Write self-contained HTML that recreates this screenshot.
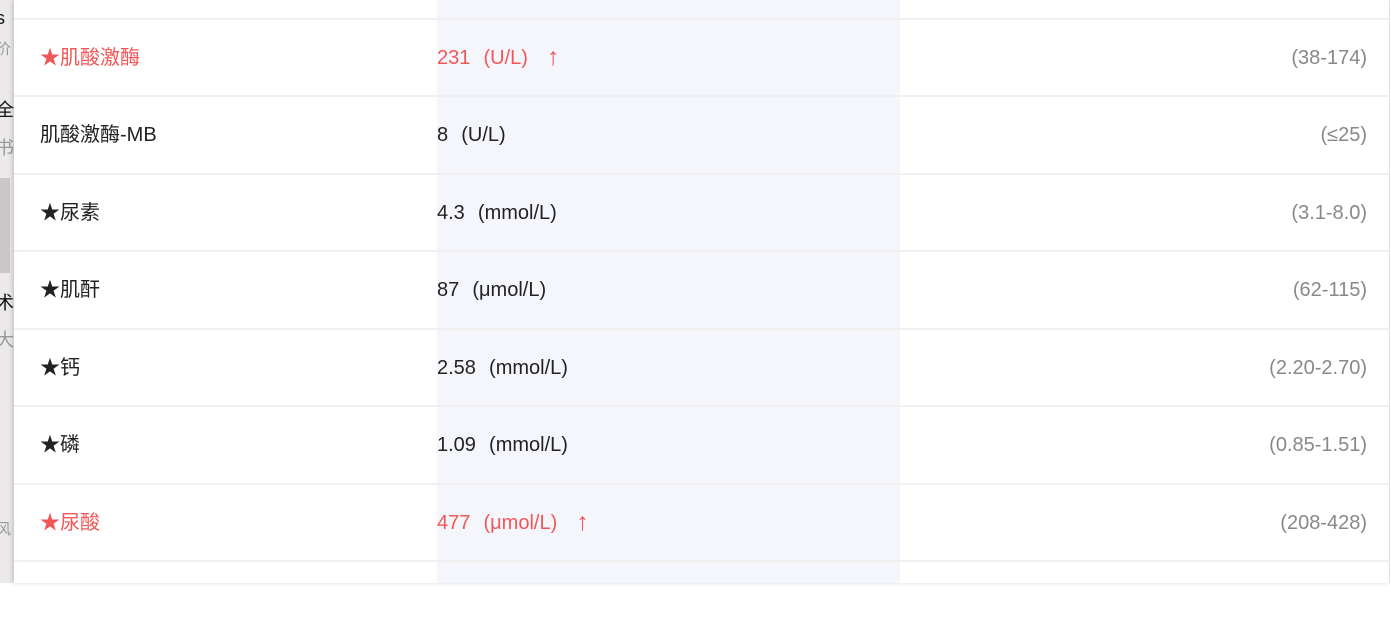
<!DOCTYPE html>
<html><head><meta charset="utf-8"><style>
body{margin:0;width:1391px;height:583px;overflow:hidden;background:#fff;font-family:"Liberation Sans","Noto Sans CJK SC",sans-serif;position:relative}
#side{position:absolute;left:0;top:0;width:14px;height:583px;background:#ebe9e9;overflow:hidden;color:#999;font-size:18px}
#side span{position:absolute;left:-4px;white-space:nowrap;line-height:20px}
#panel{position:absolute;left:14px;top:0;width:1375px;height:583px;background:#fff;border-right:1px solid #e4e4e4;box-shadow:-2px 0 4px rgba(0,0,0,.15)}
#hl{position:absolute;left:423px;top:0;width:463px;height:583px;background:#f5f6fc}
.row{position:absolute;left:0;width:1375px;height:77px;border-top:2px solid #f0f0f0;font-size:20px;color:#222}
.row div{position:absolute;top:26px;height:24px;line-height:24px;white-space:nowrap}
.n{left:26px}.v{left:423px;word-spacing:1px}.r{right:22px;color:#888}
.red .n,.red .v{color:#f25757}
.ar{font-size:25px;line-height:0;position:relative;top:1px;margin-left:6px}
</style></head><body>
<div id="side">
<span style="top:8px;color:#111">s</span><span style="top:40px;font-size:15px">价</span>
<span style="top:100px;color:#111">全</span><span style="top:138px">书</span>
<span style="top:178px;display:block;width:14px;height:95px;background:#c9c7c7"></span>
<span style="top:293px;color:#111">术</span><span style="top:330px">大</span>
<span style="top:520px;font-size:15px">风</span>
</div>
<div id="panel">
<div id="hl"></div>
<div class="row red" style="top:18px"><div class="n">★肌酸激酶</div><div class="v">231 &nbsp;(U/L) &nbsp;<span class="ar">↑</span></div><div class="r">(38-174)</div></div>
<div class="row" style="top:95px"><div class="n">肌酸激酶-MB</div><div class="v">8 &nbsp;(U/L)</div><div class="r">(≤25)</div></div>
<div class="row" style="top:173px"><div class="n">★尿素</div><div class="v">4.3 &nbsp;(mmol/L)</div><div class="r">(3.1-8.0)</div></div>
<div class="row" style="top:250px"><div class="n">★肌酐</div><div class="v">87 &nbsp;(μmol/L)</div><div class="r">(62-115)</div></div>
<div class="row" style="top:328px"><div class="n">★钙</div><div class="v">2.58 &nbsp;(mmol/L)</div><div class="r">(2.20-2.70)</div></div>
<div class="row" style="top:405px"><div class="n">★磷</div><div class="v">1.09 &nbsp;(mmol/L)</div><div class="r">(0.85-1.51)</div></div>
<div class="row red" style="top:483px"><div class="n">★尿酸</div><div class="v">477 &nbsp;(μmol/L) &nbsp;<span class="ar">↑</span></div><div class="r">(208-428)</div></div>
<div class="row" style="top:560px"></div>
</div>
</body></html>
